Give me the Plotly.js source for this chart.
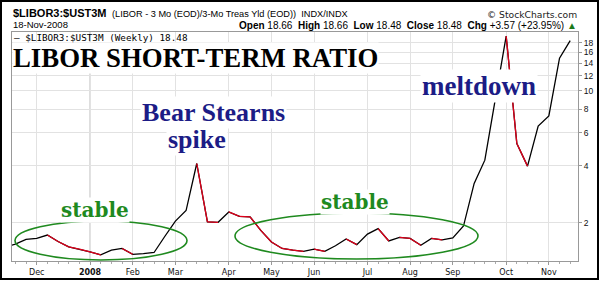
<!DOCTYPE html>
<html>
<head>
<meta charset="utf-8">
<script src="https://cdn.plot.ly/plotly-3.0.1.min.js"></script>
<style>
  html, body { margin: 0; padding: 0; background: #fff; }
  #wrap { position: relative; width: 600px; height: 281px; }
  #chart { width: 600px; height: 281px; }
  #frame { position: absolute; left: 0; top: 0; width: 595px; height: 276px; border: 2px solid #000; pointer-events: none; }
</style>
</head>
<body>
<div id="wrap"><div id="chart"></div><div id="frame"></div></div>
<script>
// ---- data ----
const symbol = '$LIBOR3:$UST3M';
const description = '(LIBOR - 3 Mo (EOD)/3-Mo Treas Yld (EOD))  INDX/INDX';
const asOf = '18-Nov-2008';
const quoteLabels = ['Open', 'High', 'Low', 'Close', 'Chg'];
const quoteValues = ['18.66', '18.66', '18.48', '18.48', '+3.57 (+23.95%)'];

const weeks = ['2007-11-12','2007-11-19','2007-11-26','2007-12-03','2007-12-10','2007-12-17','2007-12-24','2007-12-31',
  '2008-01-07','2008-01-14','2008-01-21','2008-01-28','2008-02-04','2008-02-11','2008-02-18','2008-02-25',
  '2008-03-03','2008-03-10','2008-03-17','2008-03-24','2008-03-31','2008-04-07','2008-04-14','2008-04-21','2008-04-28',
  '2008-05-05','2008-05-12','2008-05-19','2008-05-26','2008-06-02','2008-06-09','2008-06-16','2008-06-23','2008-06-30',
  '2008-07-07','2008-07-14','2008-07-21','2008-07-28','2008-08-04','2008-08-11','2008-08-18','2008-08-25',
  '2008-09-01','2008-09-08','2008-09-15','2008-09-22','2008-09-29','2008-10-06','2008-10-13','2008-10-20','2008-10-27',
  '2008-11-03','2008-11-10','2008-11-17'];

const ratio = [1.48,1.54,1.63,1.65,1.72,1.59,1.49,1.45,
  1.40,1.35,1.43,1.46,1.36,1.37,1.39,1.69,
  2.04,2.32,4.12,2.02,2.01,2.28,2.16,2.15,1.82,
  1.58,1.46,1.43,1.41,1.45,1.41,1.51,1.64,1.53,
  1.74,1.86,1.60,1.67,1.65,1.52,1.65,1.62,
  1.66,1.92,3.23,4.29,9.0,19.5,5.26,3.99,6.50,
  7.36,14.91,18.48];

const monthTicks = ['2007-12-03','2008-01-07','2008-02-04','2008-03-03','2008-04-07','2008-05-05',
  '2008-06-02','2008-07-07','2008-08-04','2008-09-01','2008-10-06','2008-11-03'];
const monthLabels = ['Dec','<b>2008</b>','Feb','Mar','Apr','May','Jun','Jul','Aug','Sep','Oct','Nov'];

const yTicks = [2, 4, 6, 8, 10, 12, 14, 16, 18];
const yLabels = ['2', '4', '6', '8', '10', '12', '14', '16', '18'];

// ---- down segments in red ----
const redX = [], redY = [];
for (let i = 1; i < ratio.length; i++) {
  if (ratio[i] < ratio[i - 1]) {
    redX.push(weeks[i - 1], weeks[i], null);
    redY.push(ratio[i - 1], ratio[i], null);
  }
}

const traces = [
  { x: weeks, y: ratio, type: 'scatter', mode: 'lines', line: { color: '#000000', width: 1.3 }, hoverinfo: 'skip', showlegend: false },
  { x: redX, y: redY, type: 'scatter', mode: 'lines', line: { color: '#e0001b', width: 1.3 }, connectgaps: false, hoverinfo: 'skip', showlegend: false }
];

const W = 600, H = 281, L = 12, R = 22, T = 32, B = 20;
const pw = W - L - R, ph = H - T - B;
const px = v => (v - L) / pw;
const py = v => (H - B - v) / ph;

const quoteText = quoteLabels.map((l, i) => '<b>' + l + '</b> ' + quoteValues[i]).join('  ') +
  ' <span style="color:#1a7a1a">▲</span>';
const legendText = '— ' + symbol + ' (Weekly) ' + ratio[ratio.length - 1].toFixed(2);

const serif = 'Liberation Serif, Times New Roman, serif';
const navy = '#1c1c86';
const green = '#1f8a1f';

const annotations = [
  { text: '<b>' + symbol + '</b>', x: px(11), y: py(13.2), xref: 'paper', yref: 'paper', xanchor: 'left', yanchor: 'middle', showarrow: false,
    font: { family: 'Liberation Sans, Arial', size: 11, color: '#000' } },
  { text: description, x: px(110), y: py(13.8), xref: 'paper', yref: 'paper', xanchor: 'left', yanchor: 'middle', showarrow: false,
    font: { family: 'Liberation Sans, Arial', size: 9.2, color: '#000' } },
  { text: '© StockCharts.com', x: px(579), y: py(14.5), xref: 'paper', yref: 'paper', xanchor: 'right', yanchor: 'middle', showarrow: false,
    font: { family: 'DejaVu Sans, Verdana', size: 9.2, color: '#222' } },
  { text: asOf, x: px(11), y: py(24.5), xref: 'paper', yref: 'paper', xanchor: 'left', yanchor: 'middle', showarrow: false,
    font: { family: 'Liberation Sans, Arial', size: 9.5, color: '#000' } },
  { text: quoteText, x: px(579), y: py(25), xref: 'paper', yref: 'paper', xanchor: 'right', yanchor: 'middle', showarrow: false,
    font: { family: 'Liberation Sans, Arial', size: 10, color: '#000' } },
  { text: 'LIBOR SHORT-TERM RATIO', x: px(12), y: py(57.5), xref: 'paper', yref: 'paper', xanchor: 'left', yanchor: 'middle', showarrow: false,
    bgcolor: '#ffffff', borderpad: 0, font: { family: serif, size: 26.8, color: '#000', weight: 'bold' } },
  { text: legendText, x: px(12), y: py(37.0), xref: 'paper', yref: 'paper', xanchor: 'left', yanchor: 'middle', showarrow: false,
    font: { family: 'DejaVu Sans Mono, monospace', size: 9.3, color: '#000' } },
  { text: 'Bear Stearns', x: px(213), y: py(112.9), xref: 'paper', yref: 'paper', xanchor: 'center', yanchor: 'middle', showarrow: false,
    bgcolor: '#ffffff', borderpad: 1, font: { family: serif, size: 26, color: navy, weight: 'bold' } },
  { text: 'spike', x: px(197), y: py(139.5), xref: 'paper', yref: 'paper', xanchor: 'center', yanchor: 'middle', showarrow: false,
    bgcolor: '#ffffff', borderpad: 1, font: { family: serif, size: 26, color: navy, weight: 'bold' } },
  { text: 'meltdown', x: px(478.7), y: py(86.2), xref: 'paper', yref: 'paper', xanchor: 'center', yanchor: 'middle', showarrow: false,
    bgcolor: '#ffffff', borderpad: 1, font: { family: serif, size: 27, color: navy, weight: 'bold' } },
  { text: 'stable', x: px(94.5), y: py(210), xref: 'paper', yref: 'paper', xanchor: 'center', yanchor: 'middle', showarrow: false,
    bgcolor: '#ffffff', borderpad: 0, font: { family: 'DejaVu Serif, serif', size: 20, color: green, weight: 'bold' } },
  { text: 'stable', x: px(355), y: py(201.7), xref: 'paper', yref: 'paper', xanchor: 'center', yanchor: 'middle', showarrow: false,
    bgcolor: '#ffffff', borderpad: 0, font: { family: 'DejaVu Serif, serif', size: 20, color: green, weight: 'bold' } }
];

const shapes = [
  { type: 'line', xref: 'x', yref: 'paper', x0: monthTicks[1], x1: monthTicks[1], y0: 0, y1: 1, layer: 'below',
    line: { color: '#b5b5b5', width: 1 } },
  { type: 'circle', xref: 'paper', yref: 'paper', x0: px(15), x1: px(187), y0: py(260), y1: py(221), layer: 'above',
    line: { color: green, width: 1.6 } },
  { type: 'circle', xref: 'paper', yref: 'paper', x0: px(235), x1: px(478), y0: py(259), y1: py(213), layer: 'above',
    line: { color: green, width: 1.6 } }
];

const layout = {
  width: W, height: H,
  margin: { l: L, r: R, t: T, b: B, pad: 0 },
  paper_bgcolor: '#ffffff', plot_bgcolor: '#ffffff',
  showlegend: false,
  font: { family: 'Liberation Sans, Arial', size: 9, color: '#000' },
  xaxis: {
    type: 'date',
    range: ['2007-11-16 19:00', '2008-11-22 03:00'],
    tickmode: 'array', tickvals: monthTicks, ticktext: monthLabels,
    ticks: 'outside', ticklen: 3, tickcolor: '#999',
    showgrid: true, gridcolor: '#e2e2e2', gridwidth: 1,
    showline: true, linecolor: '#999', linewidth: 1, mirror: true,
    zeroline: false, fixedrange: true,
    tickfont: { family: 'DejaVu Sans, Verdana', size: 8, color: '#111' },
    minor: { tickmode: 'linear', tick0: '2007-11-12', dtick: 604800000, ticks: 'outside', ticklen: 2, tickcolor: '#aaa', showgrid: false }
  },
  yaxis: {
    type: 'log', side: 'right',
    range: [0.098, 1.312],
    tickmode: 'array', tickvals: yTicks, ticktext: yLabels,
    ticks: 'outside', ticklen: 3, tickcolor: '#999',
    showgrid: true, gridcolor: '#e2e2e2', gridwidth: 1,
    showline: true, linecolor: '#999', linewidth: 1, mirror: true,
    zeroline: false, fixedrange: true,
    tickfont: { family: 'Liberation Sans, Arial', size: 8.5, color: '#111' }
  },
  annotations: annotations,
  shapes: shapes
};

Plotly.newPlot('chart', traces, layout, { staticPlot: true, displayModeBar: false });
</script>
</body>
</html>
